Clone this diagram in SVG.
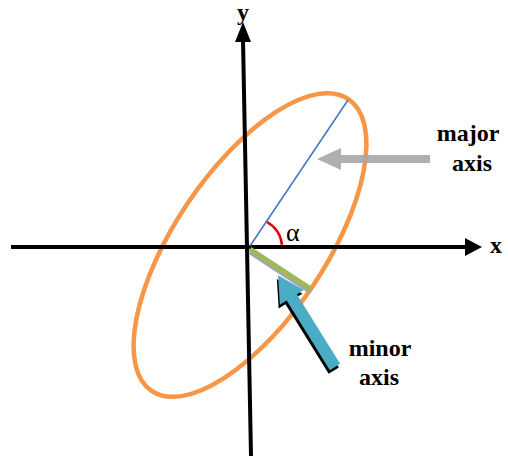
<svg xmlns="http://www.w3.org/2000/svg" width="508" height="457" viewBox="0 0 508 457">
<style>
.lbl{font-family:"Liberation Serif","Times New Roman","DejaVu Serif",serif;font-weight:bold;font-size:24px;fill:#000}
.axis{stroke:#000;stroke-width:4;fill:none}
</style>
<rect width="508" height="457" fill="#fff"/>
<g id="ellipse">
<ellipse cx="250" cy="245" rx="176" ry="75" transform="rotate(-56 250 245)" fill="none" stroke="#F79646" stroke-width="4.5"/>
</g>
<g id="connectors">
<line class="axis" x1="11" y1="247" x2="468" y2="247"/>
<polygon points="465,238 482,247 465,256" fill="#000"/>
<line class="axis" x1="251" y1="456" x2="243" y2="40"/>
<polygon points="235,42 243,22 251,42" fill="#000"/>
<line x1="250" y1="246" x2="348" y2="100" stroke="#4472C4" stroke-width="1.5"/>
<path d="M267,222 A30,30 0 0 1 282,245" fill="none" stroke="#E00000" stroke-width="2.5"/>
<line x1="250" y1="252" x2="311" y2="292" stroke="#A6A6A6" stroke-width="5"/>
<line x1="250" y1="249" x2="311" y2="289" stroke="#9BBB59" stroke-width="5"/>
<g transform="translate(335 367) rotate(-121.8)">
<polygon transform="translate(-2.5 -3)" points="0,-6 82,-6 82,-14 108,0 82,14 82,6 0,6" fill="#000"/>
<polygon points="0,-6 82,-6 82,-14 108,0 82,14 82,6 0,6" fill="#4BACC6"/>
</g>
<polygon points="430,155 341,155 341,148 317,159 341,170 341,163 430,163" fill="#A6A6A6" opacity="0.9"/>
</g>
<g id="labels">
<text class="lbl" x="496" y="253" text-anchor="middle">x</text>
<text class="lbl" x="243" y="20" text-anchor="middle" font-size="23">y</text>
<text x="286" y="241" font-family="'Liberation Serif','DejaVu Serif',serif" font-size="26">α</text>
<text class="lbl" x="468" y="141" text-anchor="middle">major</text>
<text class="lbl" x="472" y="171" text-anchor="middle">axis</text>
<text class="lbl" x="380" y="356" text-anchor="middle">minor</text>
<text class="lbl" x="379" y="385" text-anchor="middle">axis</text>
</g>
</svg>
